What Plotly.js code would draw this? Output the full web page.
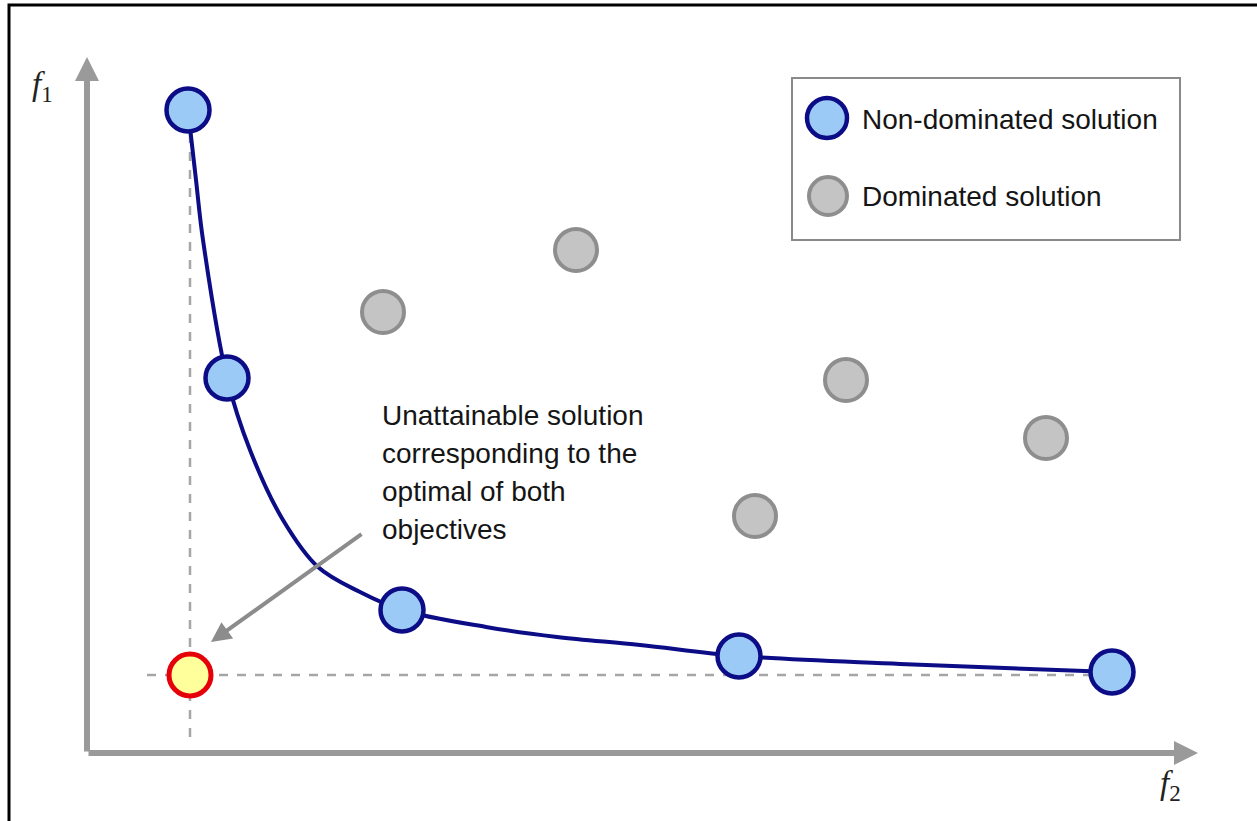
<!DOCTYPE html>
<html>
<head>
<meta charset="utf-8">
<script src="https://cdn.plot.ly/plotly-3.0.1.min.js"></script>
<style>html,body{margin:0;padding:0;background:#fff;}#chart{width:1257px;height:821px;}</style>
</head>
<body>
<div id="chart"></div>
<script>
// Non-dominated solutions (Pareto front)
var nonDomF2 = [1.01, 1.40, 3.15, 6.52, 10.25];
var nonDomF1 = [6.43, 3.75, 1.43, 0.97, 0.81];
// Pareto front curve
var frontF2 = [1.01, 1.09, 1.16, 1.40, 1.63, 1.96, 2.31, 2.73, 3.15, 3.99, 4.70, 5.53, 6.52, 8.13, 10.25];
var frontF1 = [6.43, 5.73, 5.13, 3.75, 3.03, 2.33, 1.86, 1.61, 1.43, 1.26, 1.16, 1.08, 0.97, 0.89, 0.81];
// Dominated solutions
var domF2 = [2.96, 4.89, 6.68, 7.59, 9.59];
var domF1 = [4.41, 5.03, 2.37, 3.73, 3.15];
// Ideal (unattainable) point
var idealF2 = [1.03];
var idealF1 = [0.78];
var legendLabels = ["Non-dominated solution", "Dominated solution"];
var noteLines = ["Unattainable solution", "corresponding to the", "optimal of both", "objectives"];

var NAVY = "#0c0c86", LIGHTBLUE = "#9ccaf6", GRAYFILL = "#c4c4c4", GRAYLINE = "#8e8e8e";
var AXIS = "#9a9a9a", POINTER = "#8c8c8c";

var W = 1257, H = 821, ox = 87, oy = 753, s = 100;
var xr = [(0 - ox) / s, (W - ox) / s];
var yr = [(oy - H) / s, oy / s];
function px2x(p){return (p - ox) / s;}
function py2y(p){return (oy - p) / s;}

var traces = [
  { // dashed guide lines from the ideal point
    x: [px2x(147), nonDomF2[nonDomF2.length - 1]], y: [idealF1[0], idealF1[0]],
    mode: "lines", line: {color: "#a6a6a6", width: 2.5, dash: "dash"}, hoverinfo: "skip", showlegend: false
  },
  {
    x: [idealF2[0], idealF2[0]], y: [py2y(737), nonDomF1[0] - 0.2],
    mode: "lines", line: {color: "#a6a6a6", width: 2.5, dash: "dash"}, hoverinfo: "skip", showlegend: false
  },
  { // Pareto curve
    x: frontF2, y: frontF1, mode: "lines",
    line: {color: NAVY, width: 4, shape: "spline", smoothing: 1}, hoverinfo: "skip", showlegend: false
  },
  {
    x: domF2, y: domF1, mode: "markers", name: legendLabels[1],
    marker: {size: 42, color: GRAYFILL, line: {color: GRAYLINE, width: 4}}, showlegend: false
  },
  {
    x: nonDomF2, y: nonDomF1, mode: "markers", name: legendLabels[0],
    marker: {size: 43, color: LIGHTBLUE, line: {color: NAVY, width: 4.5}}, showlegend: false
  },
  {
    x: idealF2, y: idealF1, mode: "markers", name: "Ideal",
    marker: {size: 42, color: "#ffff9c", line: {color: "#e5000a", width: 5}}, showlegend: false
  }
];

var pxX = function(p){return p / W;};
var pxY = function(p){return 1 - p / H;};

var shapes = [
  {type: "rect", xref: "paper", yref: "paper", x0: pxX(9), x1: 1.1, y0: -0.1, y1: pxY(5),
   line: {color: "#000", width: 3}, fillcolor: "rgba(0,0,0,0)", layer: "below"},
  {type: "rect", xref: "paper", yref: "paper", x0: pxX(792), x1: pxX(1180), y0: pxY(240), y1: pxY(78),
   line: {color: "#8a8a8a", width: 2}, fillcolor: "#fff", layer: "below"},
  {type: "circle", xref: "paper", yref: "paper", x0: pxX(827 - 20), x1: pxX(827 + 20), y0: pxY(118 + 20), y1: pxY(118 - 20),
   line: {color: NAVY, width: 4.5}, fillcolor: LIGHTBLUE},
  {type: "circle", xref: "paper", yref: "paper", x0: pxX(828 - 19), x1: pxX(828 + 19), y0: pxY(196 + 19), y1: pxY(196 - 19),
   line: {color: GRAYLINE, width: 4}, fillcolor: GRAYFILL}
];

var FONT = "Liberation Sans, Arial, sans-serif";
var TXT = {family: FONT, size: 28, color: "#151515"};
var annotations = [
  // axes arrows
  {x: px2x(1198), y: 0, ax: 0, ay: 0, xref: "x", yref: "y", axref: "x", ayref: "y",
   showarrow: true, arrowhead: 2, arrowsize: 0.8, arrowwidth: 6, arrowcolor: AXIS, text: ""},
  {x: 0, y: py2y(57), ax: 0, ay: 0, xref: "x", yref: "y", axref: "x", ayref: "y",
   showarrow: true, arrowhead: 2, arrowsize: 0.8, arrowwidth: 6, arrowcolor: AXIS, text: ""},
  // pointer arrow to ideal point
  {x: idealF2[0] + 0.21, y: idealF1[0] + 0.33, ax: px2x(363), ay: py2y(533), xref: "x", yref: "y", axref: "x", ayref: "y",
   showarrow: true, arrowhead: 2, arrowsize: 1, arrowwidth: 4, arrowcolor: POINTER, text: ""},
  // legend labels
  {x: pxX(860), y: pxY(120), xref: "paper", yref: "paper", xanchor: "left", yanchor: "middle",
   showarrow: false, text: legendLabels[0], font: TXT},
  {x: pxX(860), y: pxY(197), xref: "paper", yref: "paper", xanchor: "left", yanchor: "middle",
   showarrow: false, text: legendLabels[1], font: TXT},
  // axis labels
  {x: pxX(30), y: pxY(64), xref: "paper", yref: "paper", showarrow: false,
   text: "<i>f</i><sub>1</sub>", font: {family: "Liberation Serif, Times New Roman, serif", size: 33, color: "#222"}},
  {x: pxX(1183), y: pxY(808), xref: "paper", yref: "paper", showarrow: false,
   text: "<i>f</i><sub>2</sub>", font: {family: "Liberation Serif, Times New Roman, serif", size: 33, color: "#222"}}
];
noteLines.forEach(function(t, i){
  annotations.push({x: px2x(380), y: py2y(415 + 38.3 * i), xref: "x", yref: "y", xanchor: "left", yanchor: "middle",
    showarrow: false, text: t, font: TXT});
});

var layout = {
  width: W, height: H,
  margin: {l: 0, r: 0, t: 0, b: 0, pad: 0},
  paper_bgcolor: "#fff", plot_bgcolor: "#fff",
  xaxis: {range: xr, visible: false, fixedrange: true},
  yaxis: {range: yr, visible: false, fixedrange: true},
  showlegend: false,
  shapes: shapes,
  annotations: annotations
};

Plotly.newPlot("chart", traces, layout, {displayModeBar: false, staticPlot: true});
</script>
</body>
</html>
